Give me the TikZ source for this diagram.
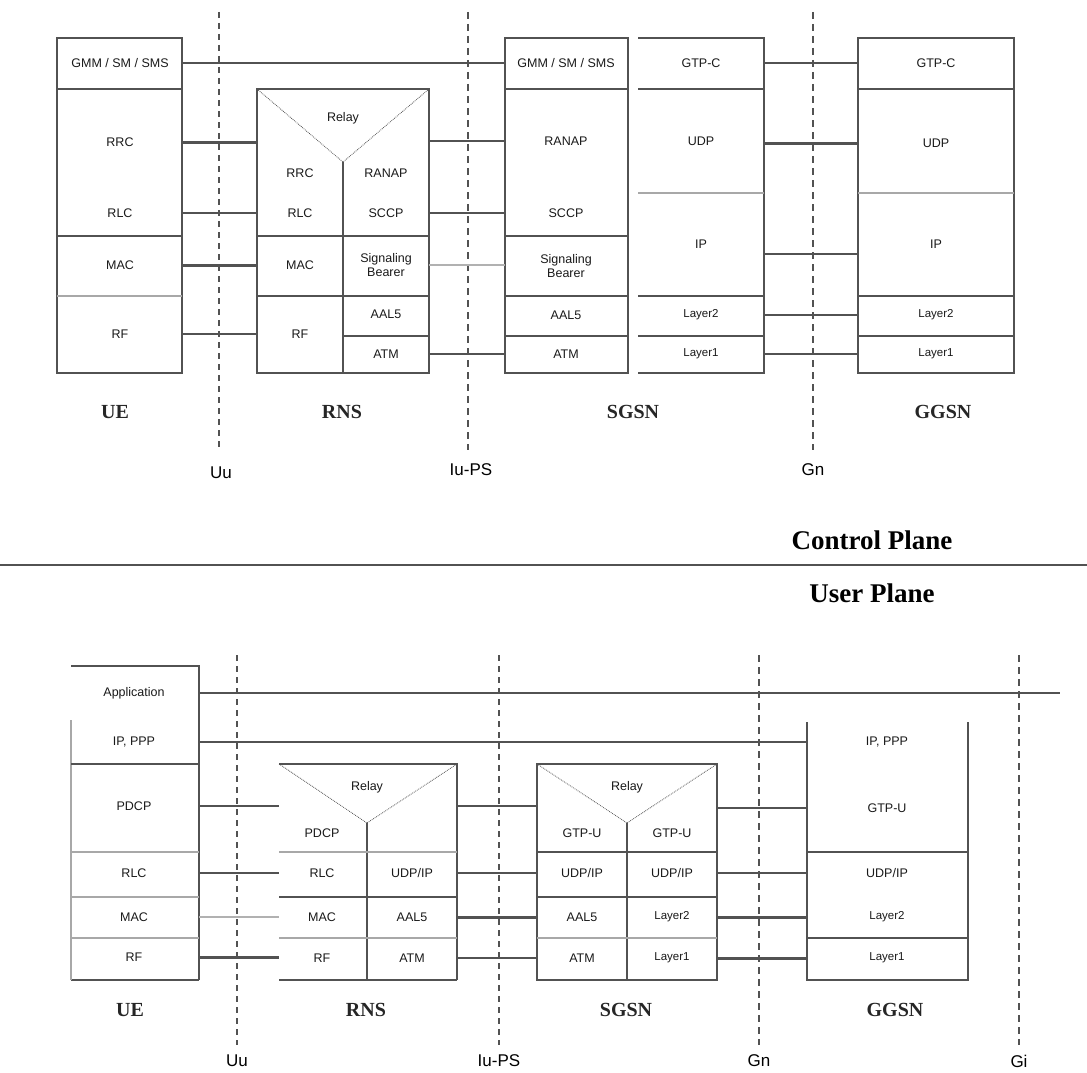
\documentclass[tikz,border=0pt]{standalone}
\usepackage{fontspec}
\setmainfont{Liberation Serif}
\setsansfont{Liberation Sans}
\usetikzlibrary{calc}

\definecolor{ink}{gray}{0.32}

\tikzset{
  stack/.style={draw=ink, line width=1.4pt},
  sep/.style={draw=ink, line width=1.4pt},
  heavysep/.style={draw=ink, line width=2.2pt},
  faint/.style={draw=ink!50, line width=1.2pt},
  relayv/.style={draw=ink, densely dotted, line width=0.8pt},
  layer/.style={font=\sffamily\fontsize{12.5}{14}\selectfont, align=center, inner sep=0pt, text=black!90},
  layersm/.style={layer, font=\sffamily\fontsize{11.5}{13}\selectfont},
  entity/.style={font=\bfseries\fontsize{20}{22}\selectfont, inner sep=0pt, text=black!85},
  iflabel/.style={font=\sffamily\fontsize{17}{19}\selectfont, inner sep=0pt},
  plane/.style={font=\bfseries\fontsize{27}{30}\selectfont, inner sep=0pt},
  link/.style={draw=ink, line width=1.4pt},
  heavylink/.style={draw=ink, line width=3pt},
  greylink/.style={draw=ink!45, line width=1.6pt},
  iface/.style={draw=ink, line width=1.2pt, dash pattern=on 6pt off 5pt},
  heavyiface/.style={draw=ink, line width=2.4pt, dash pattern=on 7pt off 5pt},
}

\begin{document}
\begin{tikzpicture}[x=1pt, y=-1pt]
\useasboundingbox (0,0) rectangle (1087,1073);

% ---------- control plane ----------
% interfaces
\draw[iface] (219,12) -- (219,450);
\draw[heavyiface] (468,12) -- (468,450);
\draw[heavyiface] (813,12) -- (813,450);
\node[iflabel] (cUu) at (221,473) {Uu};
\node[iflabel] (cIuPS) at (471,470) {Iu-PS};
\node[iflabel] (cGn) at (813,470) {Gn};

% UE stack
\draw[stack] (57,38) rectangle (182,373);
\draw[sep] (57,89) -- (182,89);
\draw[heavysep] (57,236) -- (182,236);
\draw[faint] (57,296) -- (182,296);
\coordinate (cUEe) at (182,0);
\node[layer] (cUEgmm) at (120,63) {GMM / SM / SMS};
\node[layer] (cUErrc) at (120,142) {RRC};
\node[layer] (cUErlc) at (120,213) {RLC};
\node[layer] (cUEmac) at (120,265) {MAC};
\node[layer] (cUErf)  at (120,334) {RF};

% RNS stack
\draw[stack] (257,89) rectangle (429,373);
\draw[relayv] (257,89) -- (343,162) -- (429,89);
\draw[sep] (343,162) -- (343,373);
\draw[sep] (257,236) -- (429,236);
\draw[sep] (257,296) -- (429,296);
\draw[sep] (343,336) -- (429,336);
\coordinate (cRNSw) at (257,0);
\coordinate (cRNSe) at (429,0);
\node[layer] (cRNSrelay) at (343,118) {Relay};
\node[layer] (cRNSrrc)   at (300,173) {RRC};
\node[layer] (cRNSranap) at (386,173) {RANAP};
\node[layer] (cRNSrlc)   at (300,213) {RLC};
\node[layer] (cRNSsccp)  at (386,213) {SCCP};
\node[layer] (cRNSmac)   at (300,265) {MAC};
\node[layer] (cRNSsig)   at (386,265) {Signaling\\Bearer};
\node[layer] (cRNSrf)    at (300,334) {RF};
\node[layer] (cRNSaal)   at (386,314) {AAL5};
\node[layer] (cRNSatm)   at (386,354) {ATM};

% SGSN stacks
\draw[stack] (505,38) rectangle (628,373);
\draw[sep] (505,89) -- (628,89);
\draw[heavysep] (505,236) -- (628,236);
\foreach \y in {296,336} \draw[sep] (505,\y) -- (628,\y);
\draw[stack] (638,38) -- (764,38) -- (764,373) -- (638,373);
\foreach \y in {89,296,336} \draw[sep] (638,\y) -- (764,\y);
\draw[faint] (638,193) -- (764,193);
\coordinate (cSGw) at (505,0);
\coordinate (cSGe) at (764,0);
\node[layer] (cSGgmm)   at (566,63)  {GMM / SM / SMS};
\node[layer] (cSGranap) at (566,141) {RANAP};
\node[layer] (cSGsccp)  at (566,213) {SCCP};
\node[layer] (cSGsig)   at (566,266) {Signaling\\Bearer};
\node[layer] (cSGaal)   at (566,315) {AAL5};
\node[layer] (cSGatm)   at (566,354) {ATM};
\node[layer] (cSGgtpc)  at (701,63)  {GTP-C};
\node[layer] (cSGudp)   at (701,141) {UDP};
\node[layer] (cSGip)    at (701,244) {IP};
\node[layersm] (cSGl2)  at (701,315) {Layer2};
\node[layersm] (cSGl1)  at (701,354) {Layer1};

% GGSN stack
\draw[stack] (858,38) rectangle (1014,373);
\foreach \y in {89,296,336} \draw[sep] (858,\y) -- (1014,\y);
\draw[faint] (858,193) -- (1014,193);
\coordinate (cGGw) at (858,0);
\node[layer] (cGGgtpc) at (936,63)  {GTP-C};
\node[layer] (cGGudp)  at (936,143) {UDP};
\node[layer] (cGGip)   at (936,244) {IP};
\node[layersm] (cGGl2) at (936,315) {Layer2};
\node[layersm] (cGGl1) at (936,354) {Layer1};
\coordinate (cIPlink) at ($(cGGip)+(0,10)$);

% peer links
\draw[link]      (cUEgmm -| cUEe) -- (cUEgmm -| cSGw);
\draw[heavylink] (cUErrc -| cUEe) -- (cUErrc -| cRNSw);
\draw[link]      (cUErlc -| cUEe) -- (cUErlc -| cRNSw);
\draw[heavylink] (cUEmac -| cUEe) -- (cUEmac -| cRNSw);
\draw[link]      (cUErf -| cUEe)  -- (cUErf -| cRNSw);
\draw[link]      (cSGranap -| cRNSe) -- (cSGranap -| cSGw);
\draw[link]      (cRNSsccp -| cRNSe) -- (cRNSsccp -| cSGw);
\draw[greylink]  (cRNSsig -| cRNSe)  -- (cRNSsig -| cSGw);
\draw[link]      (cRNSatm -| cRNSe)  -- (cRNSatm -| cSGw);
\draw[link]      (cGGgtpc -| cSGe) -- (cGGgtpc -| cGGw);
\draw[heavylink] (cGGudp -| cSGe)  -- (cGGudp -| cGGw);
\draw[link]      (cIPlink -| cSGe) -- (cIPlink -| cGGw);
\draw[link]      (cGGl2 -| cSGe)   -- (cGGl2 -| cGGw);
\draw[link]      (cGGl1 -| cSGe)   -- (cGGl1 -| cGGw);

\node[entity] (cUE)   at (115,412) {UE};
\node[entity] (cRNS)  at (342,412) {RNS};
\node[entity] (cSGSN) at (633,412) {SGSN};
\node[entity] (cGGSN) at (943,412) {GGSN};

% ---------- plane divider ----------
\draw[draw=ink, line width=2pt] (0,565) -- (1087,565);
\node[plane] (ctrlPlane) at (872,540) {Control Plane};
\node[plane] (userPlane) at (872,593) {User Plane};

% ---------- user plane ----------
\draw[iface] (237,655) -- (237,1045);
\draw[iface] (499,655) -- (499,1045);
\draw[heavyiface] (759,655) -- (759,1045);
\draw[heavyiface] (1019,655) -- (1019,1045);
\node[iflabel] (uUu)   at (237,1061) {Uu};
\node[iflabel] (uIuPS) at (499,1061) {Iu-PS};
\node[iflabel] (uGn)   at (759,1061) {Gn};
\node[iflabel] (uGi)   at (1019,1061) {Gi};

% UE stack
\draw[stack] (71,666) -- (199,666) -- (199,980);
\draw[heavysep] (71,980) -- (199,980);
\draw[faint] (71,720) -- (71,980);
\draw[heavysep] (71,764) -- (199,764);
\foreach \y in {852,897,938} \draw[faint] (71,\y) -- (199,\y);
\coordinate (uUEe) at (199,0);
\node[layer] (uUEapp)  at (134,693) {Application};
\node[layer] (uUEip)   at (134,742) {IP, PPP};
\node[layer] (uUEpdcp) at (134,806) {PDCP};
\node[layer] (uUErlc)  at (134,873) {RLC};
\node[layer] (uUEmac)  at (134,917) {MAC};
\node[layer] (uUErf)   at (134,957) {RF};

% RNS stack
\draw[stack] (279,764) -- (457,764) -- (457,980);
\draw[heavysep] (279,980) -- (457,980);
\draw[relayv] (279,764) -- (367,823) -- (457,764);
\draw[sep] (367,823) -- (367,980);
\draw[faint] (279,852) -- (457,852);
\draw[sep] (279,897) -- (457,897);
\draw[faint] (279,938) -- (457,938);
\coordinate (uRNSw) at (279,0);
\coordinate (uRNSe) at (457,0);
\node[layer] (uRNSrelay) at (367,787) {Relay};
\node[layer] (uRNSpdcp)  at (322,833) {PDCP};
\node[layer] (uRNSrlc)   at (322,873) {RLC};
\node[layer] (uRNSudp)   at (412,873) {UDP/IP};
\node[layer] (uRNSmac)   at (322,917) {MAC};
\node[layer] (uRNSaal)   at (412,917) {AAL5};
\node[layer] (uRNSrf)    at (322,958) {RF};
\node[layer] (uRNSatm)   at (412,958) {ATM};

% SGSN stack
\draw[stack] (537,764) rectangle (717,980);
\draw[relayv] (537,764) -- (627,823) -- (717,764);
\draw[sep] (627,823) -- (627,980);
\draw[sep] (537,852) -- (717,852);
\draw[sep] (537,897) -- (717,897);
\draw[faint] (537,938) -- (717,938);
\coordinate (uSGw) at (537,0);
\coordinate (uSGe) at (717,0);
\node[layer] (uSGrelay) at (627,787) {Relay};
\node[layer] (uSGgtpa)  at (582,833) {GTP-U};
\node[layer] (uSGgtpb)  at (672,833) {GTP-U};
\node[layer] (uSGudpa)  at (582,873) {UDP/IP};
\node[layer] (uSGudpb)  at (672,873) {UDP/IP};
\node[layer] (uSGaal)   at (582,917) {AAL5};
\node[layersm] (uSGl2)  at (672,917) {Layer2};
\node[layer] (uSGatm)   at (582,958) {ATM};
\node[layersm] (uSGl1)  at (672,958) {Layer1};

% GGSN stack
\draw[stack] (807,722) -- (807,980) -- (968,980) -- (968,722);
\draw[heavysep] (807,852) -- (968,852);
\draw[sep] (807,938) -- (968,938);
\coordinate (uGGw) at (807,0);
\coordinate (uAppEnd) at (1060,0);
\node[layer] (uGGip)   at (887,742) {IP, PPP};
\node[layer] (uGGgtp)  at (887,808) {GTP-U};
\node[layer] (uGGudp)  at (887,873) {UDP/IP};
\node[layersm] (uGGl2) at (887,917) {Layer2};
\node[layersm] (uGGl1) at (887,958) {Layer1};

% peer links
\draw[link]      (uUEapp -| uUEe)  -- (uUEapp -| uAppEnd);
\draw[link]      (uUEip -| uUEe)   -- (uUEip -| uGGw);
\draw[link]      (uUEpdcp -| uUEe) -- (uUEpdcp -| uRNSw);
\draw[link]      (uUErlc -| uUEe)  -- (uUErlc -| uRNSw);
\draw[greylink]  (uUEmac -| uUEe)  -- (uUEmac -| uRNSw);
\draw[heavylink] (uUErf -| uUEe)   -- (uUErf -| uRNSw);
\draw[link]      (uUEpdcp -| uRNSe) -- (uUEpdcp -| uSGw);
\draw[link]      (uRNSudp -| uRNSe) -- (uRNSudp -| uSGw);
\draw[heavylink] (uRNSaal -| uRNSe) -- (uRNSaal -| uSGw);
\draw[link]      (uRNSatm -| uRNSe) -- (uRNSatm -| uSGw);
\draw[link]      (uGGgtp -| uSGe) -- (uGGgtp -| uGGw);
\draw[link]      (uGGudp -| uSGe) -- (uGGudp -| uGGw);
\draw[heavylink] (uGGl2 -| uSGe)  -- (uGGl2 -| uGGw);
\draw[heavylink] (uGGl1 -| uSGe)  -- (uGGl1 -| uGGw);

\node[entity] (uUE)   at (130,1010) {UE};
\node[entity] (uRNS)  at (366,1010) {RNS};
\node[entity] (uSGSN) at (626,1010) {SGSN};
\node[entity] (uGGSN) at (895,1010) {GGSN};
\end{tikzpicture}
\end{document}
